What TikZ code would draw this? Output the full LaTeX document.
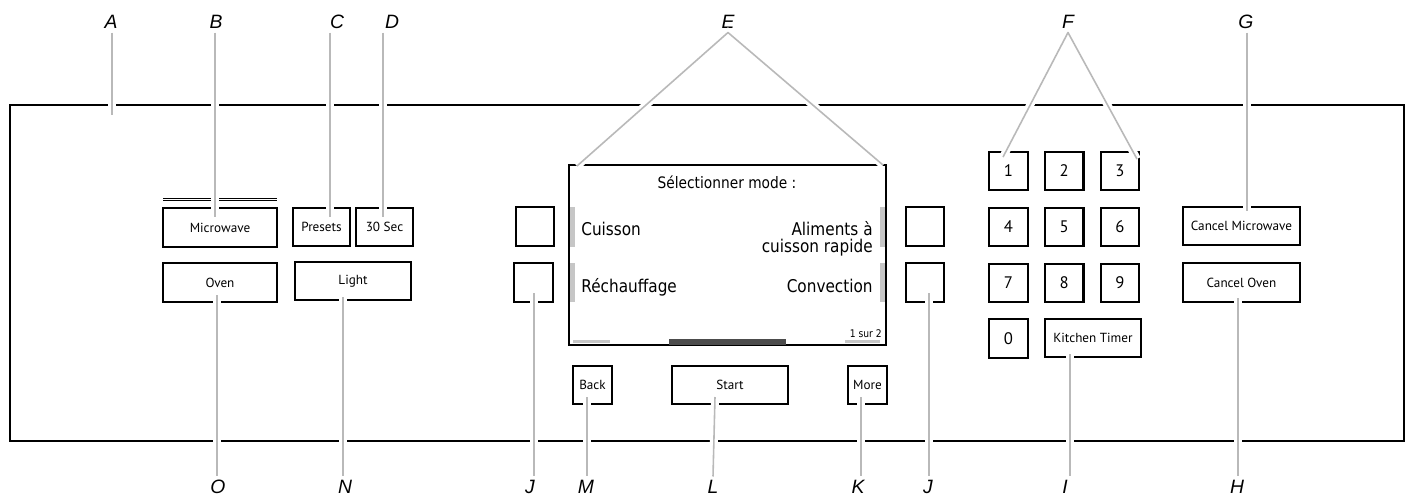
\documentclass[tikz,border=0pt]{standalone}
\usepackage{fontspec}
\setmainfont{PT Sans}
\newfontfamily\letterfont{Liberation Sans}
\newfontfamily\screenfont[FakeStretch=0.87]{DejaVu Sans}
\usetikzlibrary{calc}

\tikzset{
  panel/.style={draw, line width=1.1pt},
  btn/.style={draw, line width=1.2pt, inner sep=0pt, minimum height=0.77cm,
    font=\fontsize{7.5}{9}\selectfont},
  numkey/.style={btn, minimum width=0.77cm, font=\fontsize{9.5}{11}\selectfont},
  letter/.style={font=\letterfont\itshape\fontsize{11}{13}\selectfont, inner sep=2pt},
  leader/.style={draw=gray!55, line width=0.9pt, line join=round,
    preaction={draw=white, line width=4.5pt}},
  scrtext/.style={font=\screenfont\fontsize{10}{12}\selectfont, inner sep=0pt},
  marker/.style={fill=gray!45}
}

\begin{document}
\begin{tikzpicture}[x=0.02cm, y=-0.02cm]
\useasboundingbox (0,0) rectangle (1411,498);

% panel
\draw[panel] (10,105) rectangle (1404,441);

% left buttons
\node[btn, minimum width=2.28cm] (mw) at (220,227.5) {Microwave};
\node[btn, minimum width=2.28cm] (oven) at (220,282.5) {Oven};
\draw[double, line width=0.4pt, double distance=0.7pt] (163,199.5) -- (277,199.5);
\draw[double, line width=0.4pt, double distance=0.7pt] (163,256) -- (277,256);
\node[btn, minimum width=1.14cm] (presets) at (321.5,227) {Presets};
\node[btn, minimum width=1.14cm] (sec) at (384.5,227) {30 Sec};
\node[btn, minimum width=2.32cm] (light) at (353,281) {Light};

% screen
\node[draw, line width=1.5pt, inner sep=0pt, minimum width=6.34cm, minimum height=3.6cm] (scr) at (727.5,255) {};
\fill[marker] (570,207) rectangle (575,247);
\fill[marker] (570,263) rectangle (575,302);
\fill[marker] (880,207) rectangle (885,247);
\fill[marker] (880,263) rectangle (885,302);
\fill[marker] (573,340) rectangle (610,343);
\fill[marker] (845,340) rectangle (880,343);
\fill[black!70] (669,339) rectangle (786,345);
\node[scrtext, font=\screenfont\fontsize{9}{11}\selectfont, anchor=base] (title) at (727,188) {Sélectionner mode :};
\node[scrtext, anchor=base west] (cuisson) at (581,235) {Cuisson};
\node[scrtext, anchor=base east] (alim) at (873,235) {Aliments à};
\node[scrtext, anchor=base east] (rapide) at (873,252) {cuisson rapide};
\node[scrtext, anchor=base west] (rechauf) at (581,292) {Réchauffage};
\node[scrtext, anchor=base east] (convec) at (873,292) {Convection};
\node[scrtext, font=\screenfont\fontsize{6}{7}\selectfont, anchor=base east] (page) at (882,337) {1 sur 2};

% soft keys
\node[btn, minimum width=0.77cm] (jl1) at (535,226.5) {};
\node[btn, minimum width=0.77cm] (jl2) at (533.5,282.5) {};
\node[btn, minimum width=0.77cm] (jr1) at (925,226.5) {};
\node[btn, minimum width=0.77cm] (jr2) at (925,282.5) {};
\node[btn, minimum width=0.78cm] (back) at (592.5,385) {Back};
\node[btn, minimum width=2.32cm] (start) at (730,385) {Start};
\node[btn, minimum width=0.78cm] (more) at (867.5,385) {More};

% keypad
\foreach \n [count=\i from 0] in {1,...,9}
  \node[numkey] (k\n) at ({1008.5+55.75*mod(\i,3)},{171+56*int(\i/3)}) {\n};
\node[numkey] (k0) at (1008.5,338.5) {0};
\node[btn, minimum width=1.92cm] (timer) at (1093,338) {Kitchen Timer};
\node[btn, minimum width=2.34cm] (cmw) at (1241.5,226) {Cancel Microwave};
\node[btn, minimum width=2.34cm] (coven) at (1241.5,282.5) {Cancel Oven};

% letters
\node[letter] (A) at (111,22) {A};
\node[letter] (B) at (216,22) {B};
\node[letter] (C) at (337,22) {C};
\node[letter] (D) at (392,22) {D};
\node[letter] (E) at (728,22) {E};
\node[letter] (F) at (1068,22) {F};
\node[letter] (G) at (1246,22) {G};
\node[letter] (O) at (218,487) {O};
\node[letter] (N) at (345,487) {N};
\node[letter] (J1) at (530,487) {J};
\node[letter] (M) at (586,487) {M};
\node[letter] (L) at (713,487) {L};
\node[letter] (K) at (858,487) {K};
\node[letter] (J2) at (928,487) {J};
\node[letter] (I) at (1065,487) {I};
\node[letter] (H) at (1237,487) {H};

% leader ends
\coordinate (pA) at (112,115);
\coordinate (pB) at (215,217);
\coordinate (pC) at (330,217);
\coordinate (pD) at (383,217);
\coordinate (pE1) at (577,166);
\coordinate (pE2) at (883,165);
\coordinate (pF1) at (1003,157);
\coordinate (pF2) at (1137,159);
\coordinate (pG) at (1247,211);
\coordinate (pO) at (217,295);
\coordinate (pN) at (343,297);
\coordinate (pJ1) at (534,293);
\coordinate (pM) at (587,397);
\coordinate (pL) at (715,397);
\coordinate (pK) at (861,397);
\coordinate (pJ2) at (929,293);
\coordinate (pI) at (1070,354);
\coordinate (pH) at (1238,298);

% leaders
\draw[leader] (pA |- A.south) -- (pA);
\draw[leader] (pB |- B.south) -- (pB);
\draw[leader] (pC |- C.south) -- (pC);
\draw[leader] (pD |- D.south) -- (pD);
\draw[leader] (pE1) -- (E.south) -- (pE2);
\draw[leader] (pF1) -- (F.south) -- (pF2);
\draw[leader] (pG |- G.south) -- (pG);
\draw[leader] (pO) -- (pO |- O.north);
\draw[leader] (pN) -- (pN |- N.north);
\draw[leader] (pJ1) -- (pJ1 |- J1.north);
\draw[leader] (pM) -- (pM |- M.north);
\draw[leader] (pL) -- (L.north);
\draw[leader] (pK) -- (pK |- K.north);
\draw[leader] (pJ2) -- (pJ2 |- J2.north);
\draw[leader] (pI) -- (pI |- I.north);
\draw[leader] (pH) -- (pH |- H.north);
\end{tikzpicture}
\end{document}
